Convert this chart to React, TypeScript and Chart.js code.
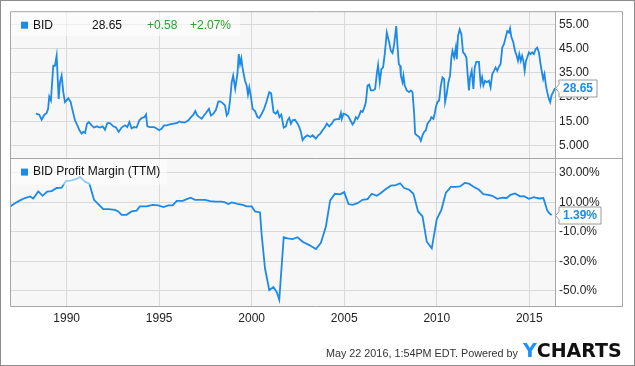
import React, { useEffect, useRef } from 'react';
import { Chart, registerables } from 'chart.js';

Chart.register(...registerables);

// ---------- data ----------
const xTickYears = [1990, 1995, 2000, 2005, 2010, 2015];
const priceTickValues = [5, 15, 25, 35, 45, 55];
const priceTickLabels = ['5.000', '15.00', '25.00', '35.00', '45.00', '55.00'];
const marginTickValues = [-50, -30, -10, 10, 30];
const marginTickLabels = ['-50.0%', '-30.0%', '-10.0%', '10.00%', '30.00%'];

const priceName = 'BID';
const priceLast = '28.65';
const priceChange = '+0.58';
const priceChangePct = '+2.07%';
const marginName = 'BID Profit Margin (TTM)';
const marginLast = '1.39%';
const footerText = 'May 22 2016, 1:54PM EDT. Powered by';

const priceYears = [
  1988.34, 1988.52, 1988.65, 1988.8, 1988.92, 1989.0, 1989.06, 1989.15, 1989.28, 1989.37,
  1989.46, 1989.57, 1989.64, 1989.73, 1989.82, 1989.91, 1990.0, 1990.09, 1990.22, 1990.32,
  1990.45, 1990.58, 1990.68, 1990.81, 1990.9, 1991.0, 1991.1, 1991.2, 1991.35, 1991.48,
  1991.62, 1991.8, 1991.95, 1992.07, 1992.2, 1992.34, 1992.52, 1992.67, 1992.81, 1992.97,
  1993.15, 1993.28, 1993.39, 1993.51, 1993.64, 1993.78, 1993.93, 1994.07, 1994.2, 1994.29,
  1994.36, 1994.5, 1994.72, 1994.86, 1995.0, 1995.14, 1995.26, 1995.4, 1995.59, 1995.77,
  1995.95, 1996.09, 1996.22, 1996.4, 1996.58, 1996.72, 1996.85, 1996.95, 1997.06, 1997.17,
  1997.3, 1997.42, 1997.57, 1997.69, 1997.8, 1997.93, 1998.07, 1998.2, 1998.32, 1998.43,
  1998.56, 1998.65, 1998.74, 1998.83, 1998.92, 1999.0, 1999.11, 1999.23, 1999.3, 1999.37,
  1999.44, 1999.5, 1999.64, 1999.73, 1999.8, 1999.87, 1999.95, 2000.05, 2000.18, 2000.31,
  2000.41, 2000.54, 2000.67, 2000.8, 2000.95, 2001.05, 2001.18, 2001.3, 2001.4, 2001.5,
  2001.6, 2001.73, 2001.85, 2001.94, 2002.03, 2002.12, 2002.21, 2002.34, 2002.48, 2002.57,
  2002.66, 2002.75, 2002.88, 2003.02, 2003.17, 2003.29, 2003.38, 2003.47, 2003.6, 2003.71,
  2003.83, 2003.96, 2004.06, 2004.19, 2004.32, 2004.46, 2004.6, 2004.73, 2004.82, 2004.87,
  2004.96, 2005.09, 2005.22, 2005.36, 2005.45, 2005.54, 2005.63, 2005.72, 2005.81, 2005.9,
  2005.99, 2006.08, 2006.17, 2006.26, 2006.35, 2006.44, 2006.56, 2006.67, 2006.76, 2006.83,
  2006.92, 2007.01, 2007.1, 2007.19, 2007.3, 2007.43, 2007.52, 2007.61, 2007.7, 2007.81,
  2007.88, 2007.95, 2008.02, 2008.06, 2008.15, 2008.2, 2008.27, 2008.38, 2008.51, 2008.6,
  2008.69, 2008.78, 2008.83, 2008.92, 2009.05, 2009.14, 2009.23, 2009.32, 2009.41, 2009.5,
  2009.64, 2009.71, 2009.82, 2009.89, 2009.96, 2010.04, 2010.13, 2010.22, 2010.31, 2010.4,
  2010.45, 2010.54, 2010.63, 2010.72, 2010.79, 2010.85, 2010.94, 2011.03, 2011.08, 2011.15,
  2011.24, 2011.33, 2011.42, 2011.51, 2011.6, 2011.69, 2011.74, 2011.8, 2011.89, 2011.98,
  2012.05, 2012.14, 2012.28, 2012.37, 2012.45, 2012.52, 2012.61, 2012.7, 2012.82, 2012.91,
  2013.0, 2013.09, 2013.18, 2013.27, 2013.36, 2013.45, 2013.54, 2013.63, 2013.72, 2013.81,
  2013.9, 2013.96, 2014.03, 2014.14, 2014.23, 2014.32, 2014.39, 2014.46, 2014.54, 2014.61,
  2014.68, 2014.75, 2014.82, 2014.89, 2014.98, 2015.07, 2015.16, 2015.25, 2015.34, 2015.43,
  2015.52, 2015.61, 2015.7, 2015.75, 2015.82, 2015.9, 2015.97, 2016.06, 2016.13, 2016.2,
  2016.29, 2016.39,
];
const priceValues = [
  18.1, 17.7, 15.6, 17.7, 18.4, 20.1, 25.2, 23.6, 37.9, 37.9,
  42.0, 24.2, 31.1, 33.8, 27.0, 22.9, 23.6, 24.5, 22.9, 19.5,
  15.4, 13.3, 11.5, 9.9, 10.6, 10.2, 14.0, 14.7, 13.3, 12.4,
  12.9, 12.4, 12.9, 11.5, 14.2, 14.2, 12.9, 12.4, 10.6, 12.4,
  13.3, 12.6, 14.7, 12.0, 12.6, 12.4, 15.4, 16.4, 16.7, 17.8,
  12.9, 12.6, 12.6, 12.0, 11.3, 12.0, 13.3, 13.3, 13.7, 14.0,
  14.2, 14.9, 14.5, 14.5, 15.4, 16.7, 17.7, 19.2, 17.4, 16.7,
  16.0, 17.4, 18.8, 20.1, 17.4, 18.1, 19.7, 23.2, 23.1, 22.5,
  21.5, 17.4, 18.4, 23.6, 31.1, 33.8, 28.3, 34.5, 42.7, 38.6,
  41.0, 37.2, 31.7, 29.7, 26.0, 29.0, 25.6, 20.1, 19.2, 16.7,
  16.4, 18.1, 20.1, 23.0, 27.0, 26.5, 18.8, 18.1, 19.2, 16.7,
  17.7, 12.4, 12.9, 15.4, 16.4, 14.0, 15.4, 15.6, 14.0, 12.6,
  10.6, 7.2, 8.5, 9.2, 8.5, 9.2, 8.5, 7.8, 9.2, 9.9,
  11.3, 12.6, 14.0, 12.9, 14.0, 15.6, 15.9, 15.9, 18.4, 16.0,
  18.1, 17.8, 17.0, 15.0, 13.7, 14.7, 16.7, 16.0, 17.4, 19.2,
  18.8, 20.5, 22.9, 29.7, 30.1, 27.7, 27.7, 28.3, 34.5, 38.2,
  31.1, 36.5, 37.2, 42.7, 51.6, 47.5, 44.0, 43.1, 46.8, 54.3,
  46.1, 38.6, 37.9, 33.8, 31.1, 33.8, 29.7, 27.7, 27.0, 27.7,
  27.0, 18.1, 9.9, 9.2, 8.5, 6.9, 9.2, 10.6, 11.3, 14.0,
  15.4, 16.7, 16.0, 18.1, 21.1, 22.9, 23.6, 29.7, 33.1, 32.4,
  22.9, 26.3, 31.1, 33.8, 41.3, 44.0, 41.3, 45.4, 40.6, 50.2,
  52.9, 50.9, 43.4, 42.7, 41.3, 32.4, 27.7, 33.1, 35.8, 28.3,
  37.2, 39.5, 39.5, 30.4, 33.1, 29.7, 31.7, 31.1, 31.7, 29.0,
  34.5, 35.8, 37.2, 35.8, 37.5, 38.6, 45.4, 46.8, 49.5, 52.2,
  51.6, 53.3, 49.8, 47.5, 44.0, 42.0, 39.9, 42.7, 39.9, 42.0,
  39.9, 35.8, 39.9, 41.3, 43.4, 42.7, 43.4, 42.7, 44.7, 45.4,
  43.4, 38.6, 34.5, 32.4, 34.5, 29.7, 27.0, 24.2, 22.9, 25.6,
  27.0, 28.65,
];

const marginYears = [
  1986.95, 1987.21, 1987.48, 1987.75, 1988.02, 1988.2, 1988.47, 1988.7, 1988.95, 1989.19,
  1989.46, 1989.73, 1989.96, 1990.27, 1990.54, 1990.72, 1990.99, 1991.23, 1991.48, 1991.71,
  1991.98, 1992.25, 1992.61, 1992.79, 1992.97, 1993.24, 1993.51, 1993.78, 1993.96, 1994.32,
  1994.65, 1994.95, 1995.23, 1995.5, 1995.73, 1995.95, 1996.27, 1996.49, 1996.7, 1996.94,
  1997.21, 1997.48, 1997.75, 1998.02, 1998.38, 1998.56, 1998.74, 1998.92, 1999.23, 1999.51,
  1999.73, 2000.0, 2000.18, 2000.45, 2000.54, 2000.72, 2000.95, 2001.17, 2001.35, 2001.49,
  2001.73, 2001.94, 2002.21, 2002.48, 2002.75, 2003.11, 2003.47, 2003.74, 2004.01, 2004.24,
  2004.5, 2004.78, 2005.0, 2005.23, 2005.45, 2005.72, 2005.99, 2006.26, 2006.49, 2006.76,
  2006.98, 2007.25, 2007.52, 2007.79, 2008.02, 2008.24, 2008.51, 2008.74, 2008.99, 2009.23,
  2009.46, 2009.73, 2010.0, 2010.25, 2010.49, 2010.76, 2011.03, 2011.26, 2011.51, 2011.74,
  2012.01, 2012.28, 2012.52, 2012.77, 2013.0, 2013.27, 2013.54, 2013.78, 2013.99, 2014.23,
  2014.5, 2014.71, 2014.98, 2015.25, 2015.52, 2015.76, 2015.97, 2016.1, 2016.21,
];
const marginValues = [
  7.3, 9.5, 11.4, 13.0, 14.1, 12.7, 17.5, 14.5, 17.3, 17.7,
  19.8, 20.0, 24.5, 25.0, 25.9, 27.3, 24.1, 22.7, 11.8, 8.9,
  5.5, 5.5, 5.0, 3.9, 1.6, 1.6, 3.9, 4.5, 7.3, 7.3,
  8.4, 8.0, 6.8, 8.0, 8.0, 11.1, 11.1, 12.3, 13.2, 11.8,
  11.8, 11.8, 10.9, 10.5, 10.5, 10.0, 8.9, 10.0, 9.1, 8.4,
  7.3, 7.3, 3.9, 3.2, -12.0, -34.8, -49.5, -47.3, -50.7, -55.9,
  -13.6, -14.3, -14.8, -13.6, -16.6, -18.9, -21.6, -17.3, -6.4, 11.4,
  15.9, 15.5, 17.0, 8.9, 8.4, 9.5, 11.8, 12.3, 15.9, 14.5,
  16.4, 19.1, 21.4, 21.8, 23.0, 19.8, 18.6, 15.9, 3.9, 0.5,
  -16.6, -21.1, -1.4, 5.0, 16.4, 20.5, 20.5, 20.9, 23.2, 22.7,
  20.5, 18.6, 15.7, 15.2, 14.5, 12.5, 13.2, 13.0, 15.2, 16.1,
  14.1, 14.3, 12.5, 13.6, 12.7, 13.0, 4.5, 2.5, 1.39,
];

// ---------- styles ----------
const LINE_BLUE = '#1c8ae6';
const TEXT_BLUE = '#1a8cf0';
const GREEN = '#2e9e2e';
const GRID = '#d9d9d9';
const FRAME = '#a6a6a6';
const FONT = '"Liberation Sans", Arial, sans-serif';

function drawCallout(ctx: CanvasRenderingContext2D, xTip: number, y: number, text: string) {
  ctx.font = `bold 12px ${FONT}`;
  const w = ctx.measureText(text).width + 8;
  const h = 17;
  const bx = xTip + 3.5;
  const yy = Math.round(y) + 0.5;
  ctx.beginPath();
  ctx.moveTo(xTip, yy);
  ctx.lineTo(bx, yy - 4);
  ctx.lineTo(bx, yy - h / 2);
  ctx.lineTo(bx + w, yy - h / 2);
  ctx.lineTo(bx + w, yy + h / 2);
  ctx.lineTo(bx, yy + h / 2);
  ctx.lineTo(bx, yy + 4);
  ctx.closePath();
  ctx.fillStyle = '#ffffff';
  ctx.fill();
  ctx.strokeStyle = '#9a9a9a';
  ctx.lineWidth = 1;
  ctx.stroke();
  ctx.fillStyle = TEXT_BLUE;
  ctx.textAlign = 'left';
  ctx.textBaseline = 'middle';
  ctx.fillText(text, bx + 4, yy + 0.5);
}

const decorPlugin = {
  id: 'decor',
  beforeDraw(chart: any) {
    const { ctx, chartArea: a, width, height } = chart;
    ctx.save();
    ctx.fillStyle = '#ffffff';
    ctx.fillRect(0, 0, width, height);
    ctx.fillStyle = '#f7f7f7';
    ctx.fillRect(a.left, a.top, a.right - a.left, a.bottom - a.top);
    ctx.restore();
  },
  afterDatasetsDraw(chart: any) {
    const { ctx, chartArea: a } = chart;
    const yP = chart.scales.yPrice;
    const yM = chart.scales.yMargin;
    ctx.save();

    // legend boxes
    ctx.fillStyle = 'rgba(255,255,255,0.55)';
    ctx.fillRect(a.left, yP.top, 230, 25);
    ctx.fillRect(a.left, yM.top, 157, 27);

    ctx.textBaseline = 'middle';
    ctx.textAlign = 'left';
    ctx.font = `12px ${FONT}`;
    const ly1 = yP.top + 14;
    ctx.fillStyle = LINE_BLUE;
    ctx.fillRect(21, ly1 - 3.5, 7, 7);
    ctx.fillStyle = '#111';
    ctx.fillText(priceName, 33, ly1);
    ctx.fillText(priceLast, 92, ly1);
    ctx.fillStyle = GREEN;
    ctx.fillText(priceChange, 147, ly1);
    ctx.fillText(priceChangePct, 190, ly1);

    const ly2 = yM.top + 14.5;
    ctx.fillStyle = LINE_BLUE;
    ctx.fillRect(21, ly2 - 3.5, 7, 7);
    ctx.fillStyle = '#111';
    ctx.fillText(marginName, 33, ly2);

    // frame
    ctx.strokeStyle = FRAME;
    ctx.lineWidth = 1;
    ctx.beginPath();
    ctx.moveTo(a.left + 0.5, a.top + 0.5);
    ctx.lineTo(622.5, a.top + 0.5);
    ctx.lineTo(622.5, a.bottom + 0.5);
    ctx.lineTo(a.left + 0.5, a.bottom + 0.5);
    ctx.closePath();
    ctx.moveTo(a.right + 0.5, a.top);
    ctx.lineTo(a.right + 0.5, a.bottom);
    ctx.moveTo(a.left, Math.round(yP.bottom) + 0.5);
    ctx.lineTo(622.5, Math.round(yP.bottom) + 0.5);
    ctx.stroke();

    // outer border
    ctx.strokeStyle = '#8c8c8c';
    ctx.strokeRect(0.5, 0.5, chart.width - 1, chart.height - 1);

    // callouts
    drawCallout(ctx, a.right + 0.5, yP.getPixelForValue(parseFloat(priceLast)), priceLast);
    drawCallout(ctx, a.right + 0.5, yM.getPixelForValue(parseFloat(marginLast)), marginLast);

    // footer
    ctx.textBaseline = 'alphabetic';
    ctx.textAlign = 'right';
    ctx.font = `10.8px ${FONT}`;
    ctx.fillStyle = '#333';
    ctx.fillText(footerText, 518, 357);
    ctx.textAlign = 'left';
    ctx.font = 'bold 19px "DejaVu Sans", sans-serif';
    ctx.fillStyle = '#1e8fff';
    ctx.fillText('Y', 523, 357);
    const yw = ctx.measureText('Y').width;
    ctx.fillStyle = '#111';
    ctx.fillText('CHARTS', 523 + yw, 357);

    ctx.restore();
  },
};

export default function App() {
  const canvasRef = useRef<HTMLCanvasElement | null>(null);

  useEffect(() => {
    const canvas = canvasRef.current;
    if (!canvas) return;
    const priceData = priceYears.map((x, i) => ({ x, y: priceValues[i] }));
    const marginData = marginYears.map((x, i) => ({ x, y: marginValues[i] }));
    const tickFont = { family: FONT, size: 12 };

    const chart = new Chart(canvas, {
      type: 'line',
      data: {
        datasets: [
          {
            label: priceName,
            data: priceData,
            yAxisID: 'yPrice',
            borderColor: LINE_BLUE,
            borderWidth: 1.8,
            pointRadius: 0,
            tension: 0,
            fill: false,
          },
          {
            label: marginName,
            data: marginData,
            yAxisID: 'yMargin',
            borderColor: LINE_BLUE,
            borderWidth: 1.8,
            pointRadius: 0,
            tension: 0,
            fill: false,
          },
        ],
      },
      options: {
        animation: false,
        responsive: false,
        devicePixelRatio: 1,
        layout: { padding: { left: 10, top: 10, right: 0, bottom: 0 } },
        plugins: { legend: { display: false }, tooltip: { enabled: false } },
        scales: {
          x: {
            type: 'linear',
            position: 'bottom',
            min: 1986.94,
            max: 2016.39,
            afterBuildTicks: (s: any) => {
              s.ticks = xTickYears.map((v) => ({ value: v }));
            },
            afterFit: (s: any) => {
              s.height = 60;
            },
            grid: { color: GRID, drawTicks: false, lineWidth: 1 },
            border: { display: false },
            ticks: {
              padding: 5,
              color: '#222',
              font: tickFont,
              autoSkip: false,
              maxRotation: 0,
              callback: (v: any) => String(v),
            },
          },
          yPrice: {
            type: 'linear',
            position: 'right',
            stack: 'panels',
            stackWeight: 147,
            min: 0,
            max: 60.4,
            afterBuildTicks: (s: any) => {
              s.ticks = priceTickValues.map((v) => ({ value: v }));
            },
            afterFit: (s: any) => {
              s.width = 80;
            },
            grid: { color: GRID, drawTicks: false, lineWidth: 1 },
            border: { display: false },
            ticks: {
              padding: 4,
              color: '#222',
              font: tickFont,
              callback: (v: any) => priceTickLabels[priceTickValues.indexOf(v)],
            },
          },
          yMargin: {
            type: 'linear',
            position: 'right',
            stack: 'panels',
            stackWeight: 149,
            min: -60.2,
            max: 40.4,
            afterBuildTicks: (s: any) => {
              s.ticks = marginTickValues.map((v) => ({ value: v }));
            },
            afterFit: (s: any) => {
              s.width = 80;
            },
            grid: { color: GRID, drawTicks: false, lineWidth: 1 },
            border: { display: false },
            ticks: {
              padding: 4,
              color: '#222',
              font: tickFont,
              callback: (v: any) => marginTickLabels[marginTickValues.indexOf(v)],
            },
          },
        },
      } as any,
      plugins: [decorPlugin],
    });

    return () => chart.destroy();
  }, []);

  return (
    <div style={{ position: 'fixed', left: 0, top: 0, width: 635, height: 366, background: '#fff' }}>
      <canvas ref={canvasRef} width={635} height={366} style={{ display: 'block', width: 635, height: 366 }} />
    </div>
  );
}
